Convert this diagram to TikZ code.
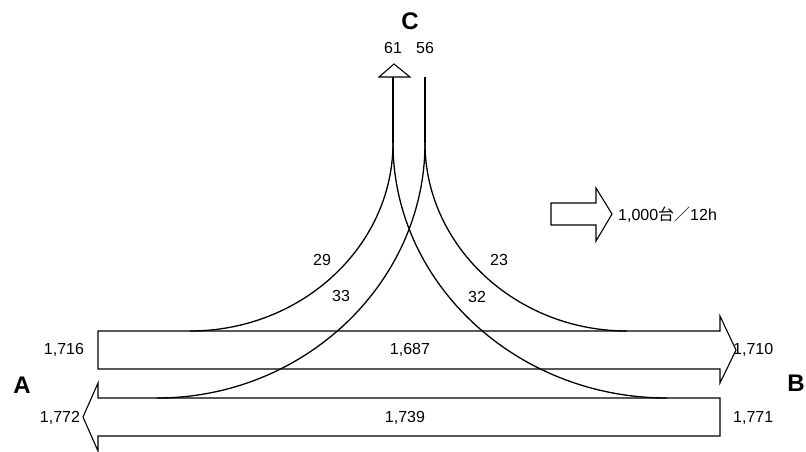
\documentclass[tikz,border=0pt]{standalone}
\usepackage{fontspec}
\setmainfont{Liberation Sans}
\newfontfamily\jpfont{Noto Sans CJK JP}

\begin{document}
\begin{tikzpicture}[x=1pt,y=-1pt,
  flowbody/.style={draw,fill=white,line width=1.1pt,line join=miter},
  turnflow/.style={line width=1.3pt},
  approach/.style={line width=2.2pt},
  volume/.style={font=\fontsize{16}{16}\selectfont,inner sep=0pt},
  place/.style={font=\fontsize{24}{24}\selectfont\bfseries,inner sep=0pt}
]
  \useasboundingbox (0,0) rectangle (806,451);

  % through traffic
  \draw[flowbody] (98,331) -- (720,331) -- (720,316) -- (736,350) -- (720,383) -- (720,369) -- (98,369) -- cycle;
  \draw[flowbody] (720,398) -- (98,398) -- (98,383) -- (83,417) -- (98,451) -- (98,436) -- (720,436) -- cycle;

  \coordinate (toCtop) at (393,77);
  \coordinate (toC) at (393,143);
  \coordinate (fromCtop) at (425,77);
  \coordinate (fromC) at (425,143);
  \coordinate (leaveA) at (190,331);
  \coordinate (leaveB) at (667,398);
  \coordinate (joinA) at (157,398);
  \coordinate (joinB) at (627,331);

  % turning traffic
  \draw[turnflow] (toC) .. controls +(0,103) and +(112,0) .. (leaveA);
  \draw[turnflow] (toC) .. controls +(0,140) and +(-151,0) .. (leaveB);
  \draw[turnflow] (fromC) .. controls +(0,140) and +(147,0) .. (joinA);
  \draw[turnflow] (fromC) .. controls +(0,103) and +(-111,0) .. (joinB);
  \draw[approach] (toC) -- (toCtop);
  \draw[approach] (fromC) -- (fromCtop);
  \draw[flowbody] (379,77) -- (394,64) -- (410,77) -- cycle;

  % legend
  \draw[flowbody] (551,203) -- (596,203) -- (596,188) -- (612,214) -- (596,241) -- (596,225) -- (551,225) -- cycle;
  \node[volume,anchor=west] (legend) at (618,215) {1,000{\jpfont 台／}12h};

  \node[place] (A) at (22,385) {A};
  \node[place,anchor=east] (B) at (805,383) {B};
  \node[place] (C) at (410,21) {C};

  \node[volume] (vAin) at (64,350) {1,716};
  \node[volume] (vAB) at (410,350) {1,687};
  \node[volume,anchor=west] (vBout) at (733,350) {1,710};
  \node[volume] (vAout) at (60,418) {1,772};
  \node[volume] (vBA) at (405,418) {1,739};
  \node[volume,anchor=west] (vBin) at (733,418) {1,771};
  \node[volume] (vCout) at (393,48) {61};
  \node[volume] (vCin) at (425,48) {56};
  \node[volume] (vAC) at (322,260) {29};
  \node[volume] (vCB) at (499,260) {23};
  \node[volume] (vCA) at (341,296) {33};
  \node[volume] (vBC) at (477,297) {32};
\end{tikzpicture}
\end{document}
